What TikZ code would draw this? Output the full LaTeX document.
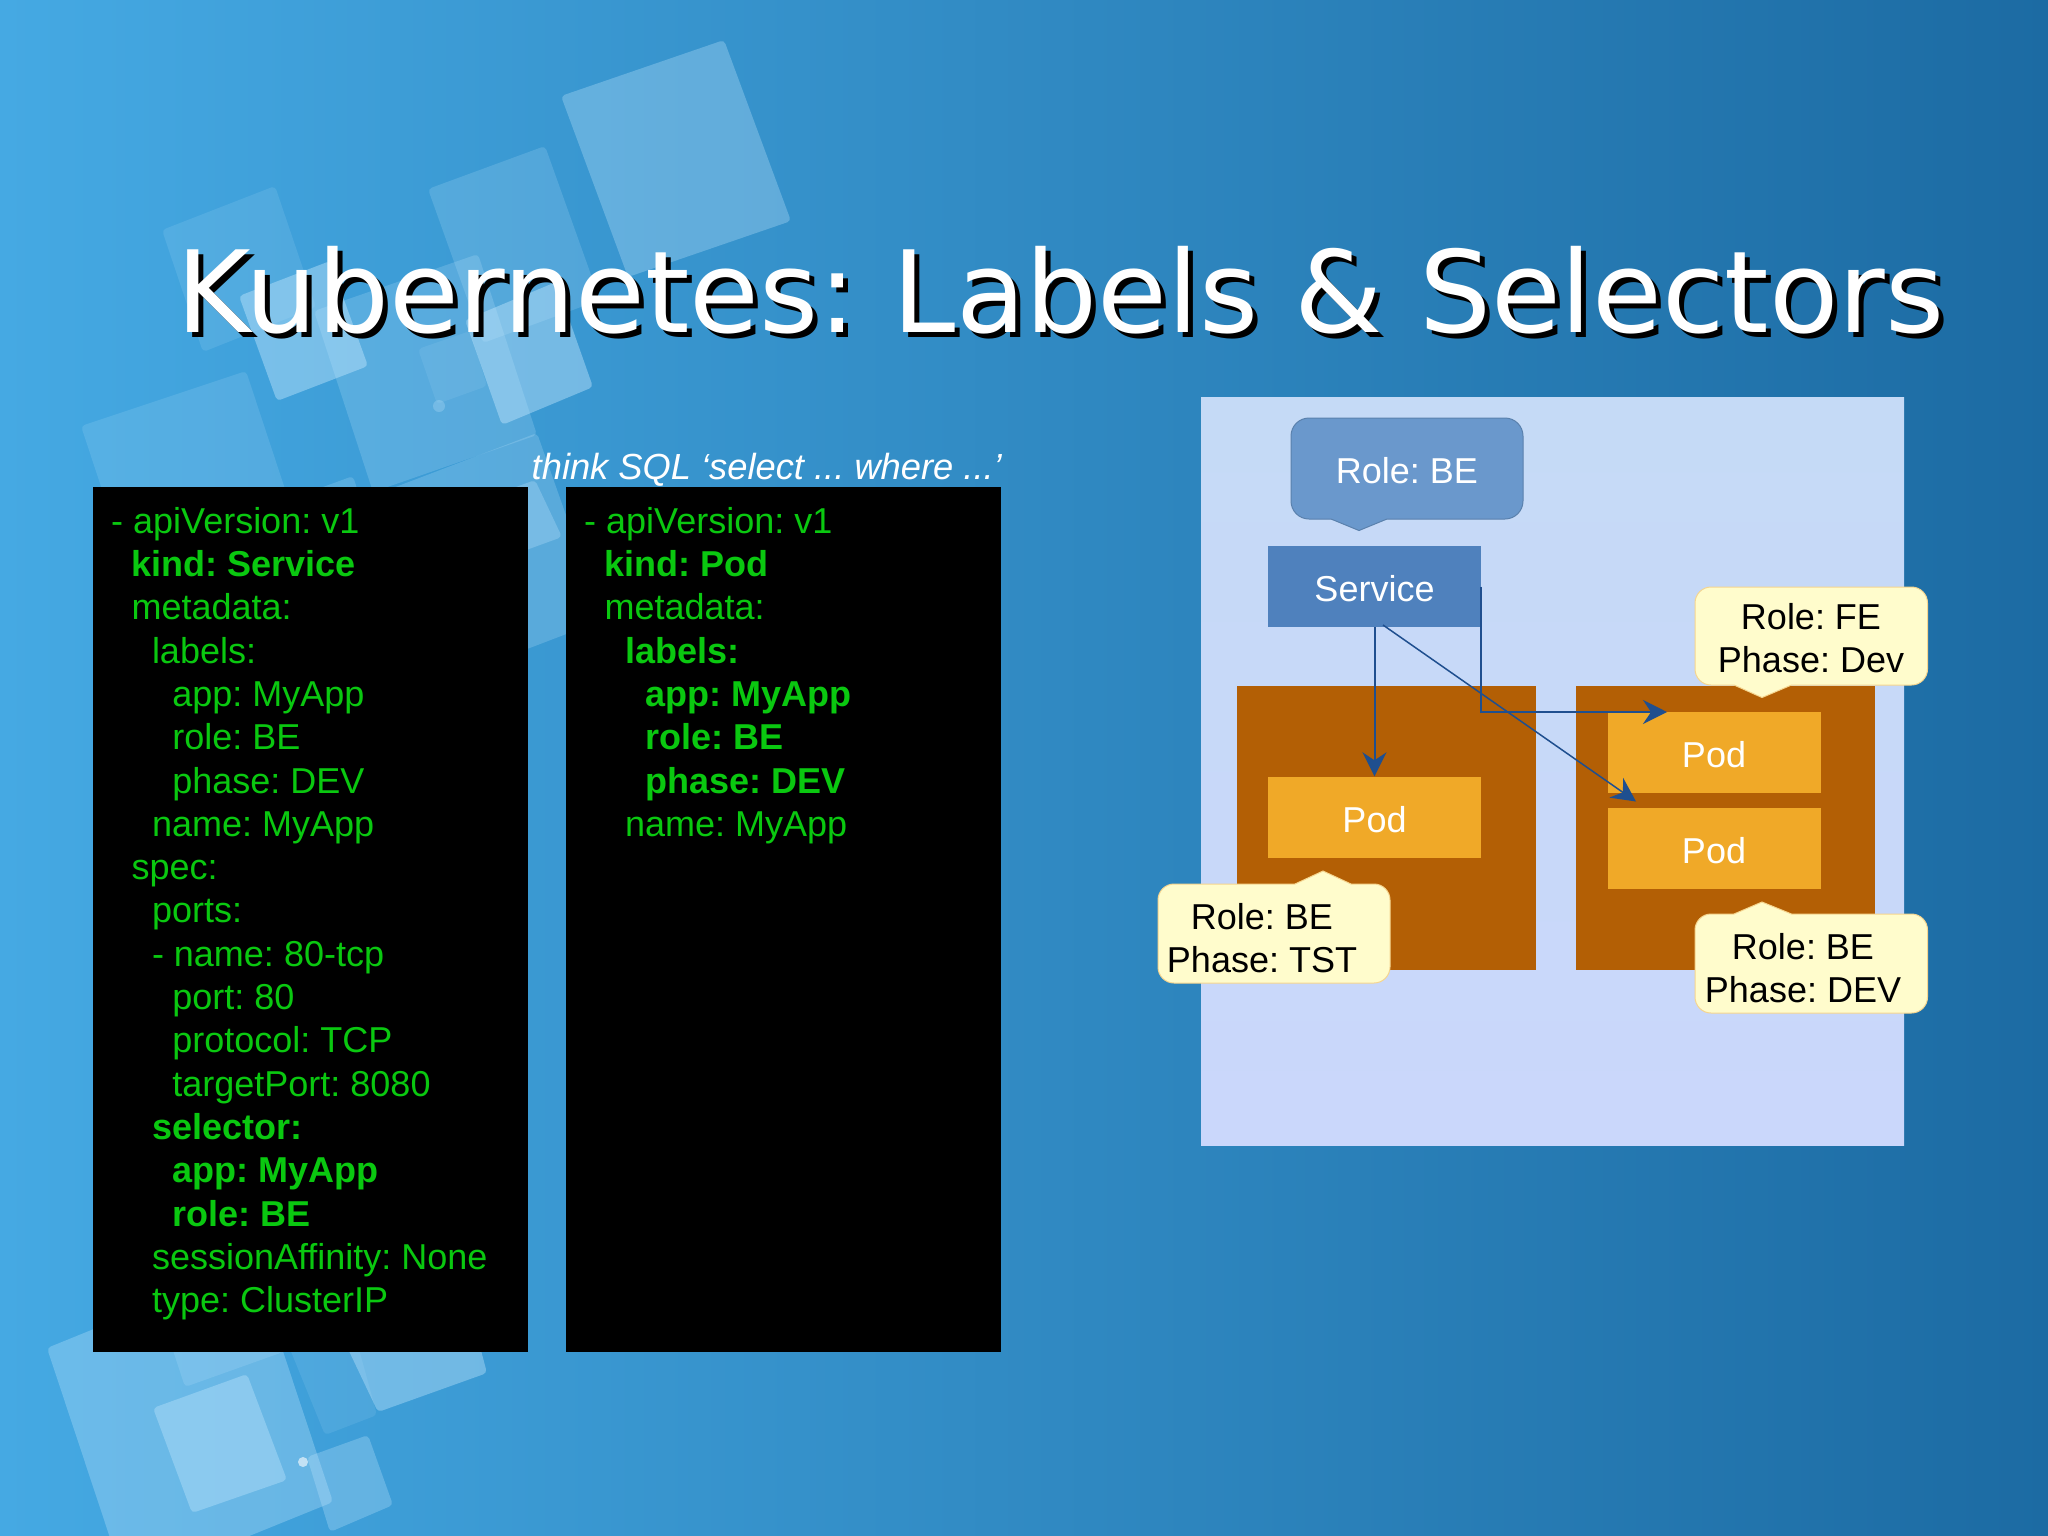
\documentclass[tikz,border=0pt]{standalone}
\usepackage{fontspec}
\setmainfont{Liberation Sans}
\newfontfamily\titlefont{DejaVu Sans}
\usetikzlibrary{arrows.meta}
\frenchspacing
\definecolor{bgL}{HTML}{45A9E3}
\definecolor{bgM}{HTML}{3390C8}
\definecolor{bgR}{HTML}{1C6BA3}
\definecolor{yamlgreen}{HTML}{0AC810}
\definecolor{arrowblue}{HTML}{1F4F8F}
\definecolor{glasstint}{HTML}{C8EAFF}
\newcommand\yi{\hspace*{10.2pt}}
\tikzset{
  x=1pt,y=-1pt,
  glass/.style={fill=glasstint,fill opacity=#1,rounded corners=4pt,draw=none},
  blackpanel/.style={fill=black,draw=none,inner sep=0pt,minimum width=435pt,minimum height=865pt},
  yamltext/.style={anchor=north west,inner sep=0pt,align=left,text=yamlgreen,font=\fontsize{36pt}{43.3pt}\selectfont},
  boxlabel/.style={inner sep=0pt,font=\fontsize{36pt}{43.4pt}\selectfont,align=center},
  rs/.style={fill=#1,draw=none,inner sep=0pt,minimum width=213pt,minimum height=81pt,text=white,text height=30pt,text depth=0pt,font=\fontsize{36pt}{43.4pt}\selectfont},
  orangebox/.style={fill=orangeD,draw=none,inner sep=0pt,minimum width=299pt,minimum height=284pt},
  yellowcallout/.style={fill=yellow!20!white,draw=calloutedge,line width=1pt},
  conn/.style={draw=arrowblue,line width=2pt,-{Stealth[length=24pt,width=24pt,inset=8pt]}},
}
\definecolor{orangeD}{HTML}{B35F05}
\definecolor{podfill}{HTML}{F0A928}
\definecolor{servicefill}{HTML}{4F81BD}
\definecolor{rolefill}{HTML}{6A98CC}
\definecolor{calloutedge}{HTML}{F5D58F}
\definecolor{lightpanelT}{HTML}{C5DAF6}
\definecolor{lightpanelB}{HTML}{CAD7FB}
\begin{document}
\begin{tikzpicture}
\useasboundingbox (0,0) rectangle (2048,1535);
% background
\shade[left color=bgL,middle color=bgM,right color=bgR] (0,0) rectangle (2048,1535);
% decorative squares, top cluster
\path[glass=.13] (162,230) -- (275,186) -- (316,307) -- (203,352) -- cycle;
\path[glass=.15] (81,426) -- (246,371) -- (325,610) -- (160,665) -- cycle;
\path[glass=.18] (428,189) -- (545,146) -- (600,300) -- (483,343) -- cycle;
\path[glass=.3] (561,96) -- (724,40) -- (791,221) -- (628,277) -- cycle;
\path[glass=.2] (314,311) -- (478,254) -- (537,435) -- (373,492) -- cycle;
\path[glass=.10] (418,349) -- (470,331) -- (487,386) -- (437,404) -- cycle;
\path[glass=.22] (270,535) -- (537,433) -- (603,620) -- (336,722) -- cycle;
\path[glass=.28] (405,528) -- (535,480) -- (562,537) -- (430,585) -- cycle;
\path[glass=.2] (255,512) -- (353,476) -- (370,530) -- (272,566) -- cycle;
\path[glass=.42] (239,296) -- (330,261) -- (368,366) -- (277,401) -- cycle;
\path[glass=.42] (465,320) -- (556,282) -- (593,387) -- (502,425) -- cycle;
\path[fill=glasstint,fill opacity=.25] (439,406) circle (6);
% decorative squares, bottom cluster
\path[glass=.3] (47,1348) -- (254,1264) -- (333,1502) -- (126,1586) -- cycle;
\path[glass=.17] (150,1280) -- (260,1240) -- (283,1352) -- (185,1387) -- cycle;
\path[glass=.36] (153,1408) -- (247,1374) -- (287,1480) -- (192,1513) -- cycle;
\path[glass=.11] (270,1300) -- (340,1280) -- (377,1415) -- (325,1435) -- cycle;
\path[glass=.38] (320,1290) -- (465,1290) -- (487,1373) -- (378,1412) -- cycle;
\path[glass=.28] (307,1457) -- (368,1435) -- (393,1505) -- (330,1532) -- cycle;
\path[fill=white,fill opacity=.6] (303,1462) circle (5);
% title
\node[anchor=base west,inner sep=0pt,text=black,font=\titlefont\fontsize{113.5pt}{113.5pt}\selectfont] (titleshadow) at (181,337) {Kubernetes: Labels \& Selectors};
\node[anchor=base west,inner sep=0pt,text=white,font=\titlefont\fontsize{113.5pt}{113.5pt}\selectfont] (title) at (176,332) {Kubernetes: Labels \& Selectors};
% caption
\node[anchor=base east,inner sep=0pt,text=white,font=\fontsize{36.3pt}{40pt}\selectfont\itshape] (caption) at (1002,479) {think SQL ‘select ... where ...’};
% yaml panels
\node[blackpanel,anchor=north west] (leftpanel) at (93,487) {};
\node[blackpanel,anchor=north west] (rightpanel) at (566,487) {};
\node[yamltext] (leftyaml) at (111,503) {\rule{0pt}{30pt}- apiVersion: v1\\
\yi\yi\textbf{kind: Service}\\
\yi\yi metadata:\\
\yi\yi\yi\yi labels:\\
\yi\yi\yi\yi\yi\yi app: MyApp\\
\yi\yi\yi\yi\yi\yi role: BE\\
\yi\yi\yi\yi\yi\yi phase: DEV\\
\yi\yi\yi\yi name: MyApp\\
\yi\yi spec:\\
\yi\yi\yi\yi ports:\\
\yi\yi\yi\yi - name: 80-tcp\\
\yi\yi\yi\yi\yi\yi port: 80\\
\yi\yi\yi\yi\yi\yi protocol: TCP\\
\yi\yi\yi\yi\yi\yi targetPort: 8080\\
\yi\yi\yi\yi\textbf{selector:}\\
\yi\yi\yi\yi\yi\yi\textbf{app: MyApp}\\
\yi\yi\yi\yi\yi\yi\textbf{role: BE}\\
\yi\yi\yi\yi sessionAffinity: None\\
\yi\yi\yi\yi type: ClusterIP};
\node[yamltext] (rightyaml) at (584,503) {\rule{0pt}{30pt}- apiVersion: v1\\
\yi\yi\textbf{kind: Pod}\\
\yi\yi metadata:\\
\yi\yi\yi\yi\textbf{labels:}\\
\yi\yi\yi\yi\yi\yi\textbf{app: MyApp}\\
\yi\yi\yi\yi\yi\yi\textbf{role: BE}\\
\yi\yi\yi\yi\yi\yi\textbf{phase: DEV}\\
\yi\yi\yi\yi name: MyApp};
% diagram
\shade[top color=lightpanelT,bottom color=lightpanelB] (1201,397) rectangle (1904,1145);
\draw[fill=rolefill,draw=rolefill!85!black,line width=1pt]
  (1407,418) [rounded corners=18pt] -- (1523,418) -- (1523,519) [sharp corners] -- (1387,519) -- (1359,530.5) -- (1331,519) [rounded corners=18pt] -- (1291,519) -- (1291,418) -- cycle;
\node[boxlabel,text=white] (rolebe) at (1407,471) {Role: BE};
\node[rs=servicefill] (service) at (1374.5,586.5) {Service};
\node[orangebox] (leftgroup) at (1386.5,828) {};
\node[orangebox] (rightgroup) at (1725.5,828) {};
\node[rs=podfill] (poda) at (1374.5,817) {Pod};
\node[rs=podfill] (podb) at (1714,752.5) {Pod};
\node[rs=podfill] (podc) at (1714,848.5) {Pod};
\draw[yellowcallout]
  (1811,587) [rounded corners=16pt] -- (1927.5,587) -- (1927.5,685) [sharp corners] -- (1791.5,685) -- (1762,697.5) -- (1734,685) [rounded corners=16pt] -- (1695,685) -- (1695,587) -- cycle;
\node[boxlabel] (fe) at (1811,638) {Role: FE\\Phase: Dev};
\draw[yellowcallout]
  (1274,983) [rounded corners=16pt] -- (1158,983) -- (1158,884) [sharp corners] -- (1295,884) -- (1323,871) -- (1351,884) [rounded corners=16pt] -- (1390,884) -- (1390,983) -- cycle;
\node[boxlabel] (tst) at (1262,938) {Role: BE\\Phase: TST};
\draw[yellowcallout]
  (1811,1013) [rounded corners=16pt] -- (1695,1013) -- (1695,914) [sharp corners] -- (1734,914) -- (1762,902) -- (1791.5,914) [rounded corners=16pt] -- (1927.5,914) -- (1927.5,1013) -- cycle;
\node[boxlabel] (dev) at (1803,968) {Role: BE\\Phase: DEV};
% connectors
\coordinate (tipb) at (1667,712);
\coordinate (tipc) at (1636,801.5);
\coordinate (fromdiag) at (1383,625);
\draw[conn] (service.south) -- (poda.north);
\draw[conn,line width=1.5pt] (fromdiag) -- (tipc);
\draw[conn] (service.east) |- (tipb);
\end{tikzpicture}
\end{document}
